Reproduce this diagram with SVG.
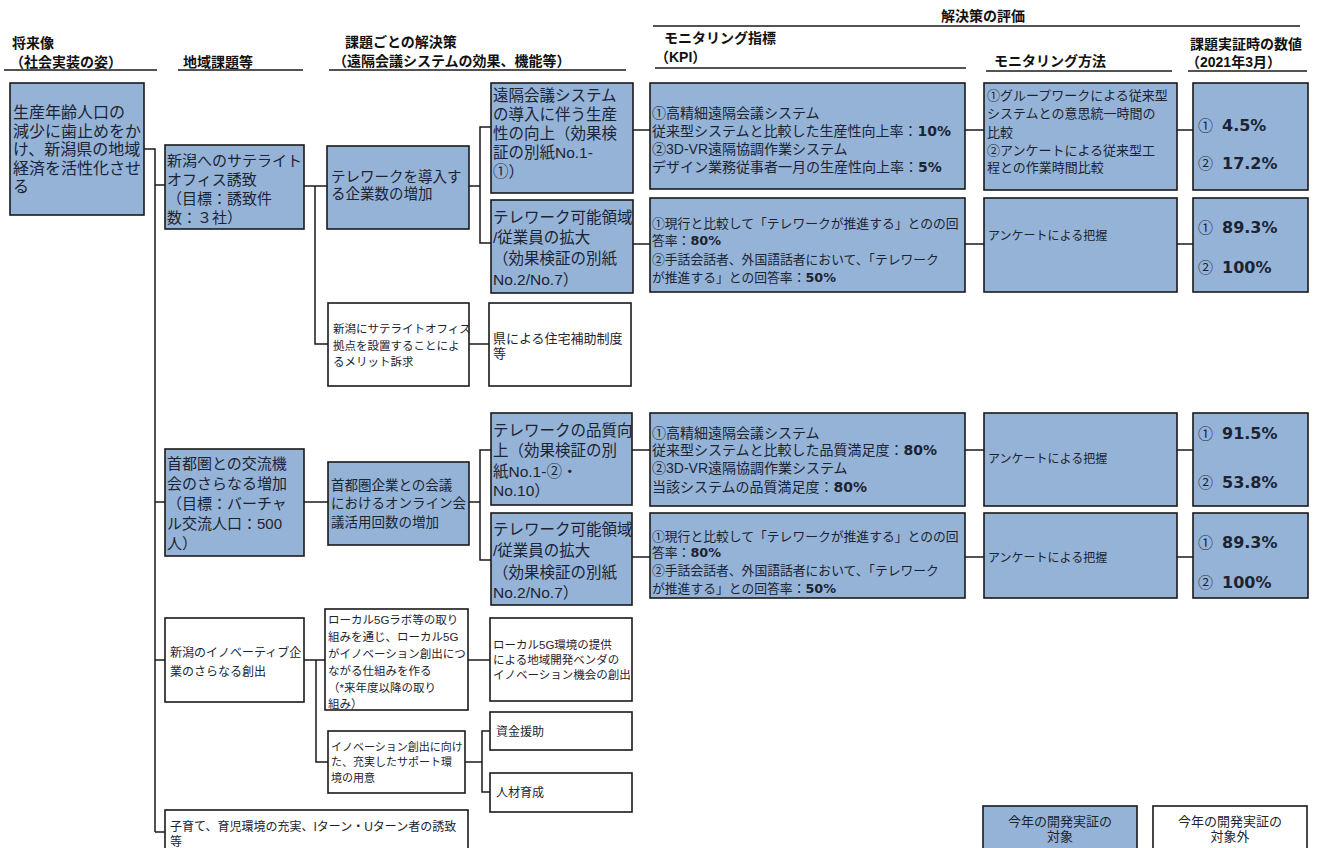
<svg xmlns="http://www.w3.org/2000/svg" width="1324" height="848" viewBox="0 0 1324 848">
<style>
.bg{fill:#ffffff}
.b{fill:#95B3D7;stroke:#1a1a1a;stroke-width:1.6}
.w{fill:#ffffff;stroke:#1a1a1a;stroke-width:1.6}
.c{fill:none;stroke:#1a1a1a;stroke-width:1.5}
.ul{stroke:#1a1a1a;stroke-width:1.6}
text{font-family:"Liberation Sans","Noto Sans CJK JP","Noto Sans CJK SC",sans-serif;fill:#1c2433}
.h{font-size:14px;font-weight:bold;fill:#111}
.pb{font-family:"DejaVu Sans",sans-serif;font-weight:bold}
.v{font-size:15px}
.vn{font-family:"DejaVu Sans",sans-serif;font-weight:bold;font-size:16px}
</style>
<rect class="bg" x="0" y="0" width="1324" height="848"/>

<g id="headers">
<text class="h" x="12" y="48">将来像</text>
<text class="h" x="10" y="67">（社会実装の姿）</text>
<line class="ul" x1="4" y1="70" x2="157" y2="70"/>
<text class="h" x="183" y="67">地域課題等</text>
<line class="ul" x1="178" y1="70" x2="303" y2="70"/>
<text class="h" x="345" y="47">課題ごとの解決策</text>
<text class="h" x="333" y="66">（遠隔会議システムの効果、機能等）</text>
<line class="ul" x1="329" y1="70" x2="626" y2="70"/>
<text class="h" x="983" y="21" text-anchor="middle">解決策の評価</text>
<line class="ul" x1="653" y1="26" x2="1300" y2="26"/>
<text class="h" x="664" y="43">モニタリング指標</text>
<text class="h" x="655" y="62">（KPI）</text>
<line class="ul" x1="655" y1="68" x2="966" y2="68"/>
<text class="h" x="994" y="66">モニタリング方法</text>
<line class="ul" x1="986" y1="71" x2="1172" y2="71"/>
<text class="h" x="1190" y="49">課題実証時の数値</text>
<text class="h" x="1186" y="67">（2021年3月）</text>
<line class="ul" x1="1188" y1="71" x2="1307" y2="71"/>
</g>

<g id="connectors">
<path class="c" d="M144 149H155V832"/>
<path class="c" d="M155 185H165"/>
<path class="c" d="M155 502H165"/>
<path class="c" d="M155 660H165"/>
<path class="c" d="M155 832H165"/>
<path class="c" d="M304 186H327"/>
<path class="c" d="M315 186V344H328"/>
<path class="c" d="M469 186H480"/>
<path class="c" d="M491 127H480V243H491"/>
<path class="c" d="M633 130H650"/>
<path class="c" d="M633 244H650"/>
<path class="c" d="M965 130H984"/>
<path class="c" d="M1177 130H1193"/>
<path class="c" d="M965 244H984"/>
<path class="c" d="M1177 244H1193"/>
<path class="c" d="M469 344H489"/>
<path class="c" d="M304 502H328"/>
<path class="c" d="M469 502H480"/>
<path class="c" d="M491 450H480V560H491"/>
<path class="c" d="M632 450H650"/>
<path class="c" d="M632 557H650"/>
<path class="c" d="M965 450H984"/>
<path class="c" d="M1177 450H1193"/>
<path class="c" d="M965 557H984"/>
<path class="c" d="M1177 557H1193"/>
<path class="c" d="M304 660H325"/>
<path class="c" d="M316 660V762H328"/>
<path class="c" d="M468 660H490"/>
<path class="c" d="M465 762H482"/>
<path class="c" d="M490 731H482V792H490"/>
</g>

<g id="vision">
<rect class="b" x="10" y="83" width="134" height="132"/>
<g font-size="16">
<text x="13" y="118">生産年齢人口の</text>
<text x="13" y="136.5">減少に歯止めをか</text>
<text x="13" y="155">け、新潟県の地域</text>
<text x="13" y="173.5">経済を活性化させ</text>
<text x="13" y="192">る</text>
</g>
</g>

<g id="issue-satellite">
<rect class="b" x="165" y="145" width="139" height="84"/>
<g font-size="15">
<text x="167" y="166">新潟へのサテライト</text>
<text x="167" y="185">オフィス誘致</text>
<text x="167" y="204">（目標：誘致件</text>
<text x="167" y="223">数：３社）</text>
</g>
</g>

<g id="sol-telework-companies">
<rect class="b" x="327" y="146" width="142" height="83"/>
<g font-size="14.5">
<text x="331" y="182">テレワークを導入す</text>
<text x="331" y="198.5">る企業数の増加</text>
</g>
</g>

<g id="eff-productivity">
<rect class="b" x="491" y="83" width="142" height="110"/>
<g font-size="15.5">
<text x="493" y="101">遠隔会議システム</text>
<text x="493" y="120">の導入に伴う生産</text>
<text x="493" y="139">性の向上（効果検</text>
<text x="493" y="158">証の別紙No.1-</text>
<text x="493" y="177">①）</text>
</g>
</g>

<g id="eff-area-1">
<rect class="b" x="491" y="200" width="142" height="93"/>
<g font-size="15.5">
<text x="493" y="223">テレワーク可能領域</text>
<text x="493" y="243">/従業員の拡大</text>
<text x="493" y="264">（効果検証の別紙</text>
<text x="493" y="285">No.2/No.7）</text>
</g>
</g>

<g id="kpi-1">
<rect class="b" x="650" y="83" width="315" height="106"/>
<g font-size="14">
<text x="652" y="118">①高精細遠隔会議システム</text>
<text x="652" y="136">従来型システムと比較した生産性向上率：<tspan class="pb">10%</tspan></text>
<text x="652" y="154">②3D-VR遠隔協調作業システム</text>
<text x="652" y="172">デザイン業務従事者一月の生産性向上率：<tspan class="pb">5%</tspan></text>
</g>
</g>

<g id="kpi-2">
<rect class="b" x="650" y="198" width="315" height="94"/>
<g font-size="12.8">
<text x="652" y="228">①現行と比較して「テレワークが推進する」とのの回</text>
<text x="652" y="245">答率：<tspan class="pb">80%</tspan></text>
<text x="652" y="264">②手話会話者、外国語話者において、「テレワーク</text>
<text x="652" y="282">が推進する」との回答率：<tspan class="pb">50%</tspan></text>
</g>
</g>

<g id="method-1">
<rect class="b" x="984" y="83" width="193" height="107"/>
<g font-size="13">
<text x="987" y="100">①グループワークによる従来型</text>
<text x="987" y="118">システムとの意思統一時間の</text>
<text x="987" y="137">比較</text>
<text x="987" y="155">②アンケートによる従来型工</text>
<text x="987" y="172">程との作業時間比較</text>
</g>
</g>

<g id="method-2">
<rect class="b" x="984" y="198" width="193" height="94"/>
<text x="988" y="240" font-size="12">アンケートによる把握</text>
</g>

<g id="value-1">
<rect class="b" x="1193" y="83" width="115" height="107"/>
<text class="v" x="1198" y="131">①</text><text class="vn" x="1222" y="131">4.5%</text>
<text class="v" x="1198" y="169">②</text><text class="vn" x="1222" y="169">17.2%</text>
</g>

<g id="value-2">
<rect class="b" x="1193" y="198" width="115" height="94"/>
<text class="v" x="1198" y="233">①</text><text class="vn" x="1222" y="233">89.3%</text>
<text class="v" x="1198" y="273">②</text><text class="vn" x="1222" y="273">100%</text>
</g>

<g id="sol-merit">
<rect class="w" x="328" y="303" width="141" height="83"/>
<g font-size="11.5">
<text x="333" y="333">新潟にサテライトオフィス</text>
<text x="333" y="350">拠点を設置することによ</text>
<text x="333" y="366">るメリット訴求</text>
</g>
</g>

<g id="eff-housing">
<rect class="w" x="489" y="303" width="142" height="83"/>
<g font-size="13">
<text x="493" y="343">県による住宅補助制度</text>
<text x="493" y="358">等</text>
</g>
</g>

<g id="issue-tokyo">
<rect class="b" x="165" y="449" width="139" height="107"/>
<g font-size="15">
<text x="167" y="469">首都圏との交流機</text>
<text x="167" y="489">会のさらなる増加</text>
<text x="167" y="509">（目標：バーチャ</text>
<text x="167" y="529">ル交流人口：500</text>
<text x="167" y="549">人）</text>
</g>
</g>

<g id="sol-online-meetings">
<rect class="b" x="328" y="462" width="141" height="83"/>
<g font-size="13.5">
<text x="331" y="490">首都圏企業との会議</text>
<text x="331" y="508">におけるオンライン会</text>
<text x="331" y="527">議活用回数の増加</text>
</g>
</g>

<g id="eff-quality">
<rect class="b" x="491" y="413" width="141" height="92"/>
<g font-size="15.5">
<text x="493" y="436">テレワークの品質向</text>
<text x="493" y="456">上（効果検証の別</text>
<text x="493" y="477">紙No.1-②・</text>
<text x="493" y="496">No.10）</text>
</g>
</g>

<g id="eff-area-2">
<rect class="b" x="491" y="513" width="141" height="92"/>
<g font-size="15.5">
<text x="493" y="535">テレワーク可能領域</text>
<text x="493" y="556">/従業員の拡大</text>
<text x="493" y="578">（効果検証の別紙</text>
<text x="493" y="598">No.2/No.7）</text>
</g>
</g>

<g id="kpi-3">
<rect class="b" x="650" y="413" width="315" height="93"/>
<g font-size="14">
<text x="652" y="438">①高精細遠隔会議システム</text>
<text x="652" y="455">従来型システムと比較した品質満足度：<tspan class="pb">80%</tspan></text>
<text x="652" y="473">②3D-VR遠隔協調作業システム</text>
<text x="652" y="492">当該システムの品質満足度：<tspan class="pb">80%</tspan></text>
</g>
</g>

<g id="kpi-4">
<rect class="b" x="650" y="513" width="315" height="85"/>
<g font-size="12.8">
<text x="652" y="541">①現行と比較して「テレワークが推進する」とのの回</text>
<text x="652" y="557">答率：<tspan class="pb">80%</tspan></text>
<text x="652" y="575">②手話会話者、外国語話者において、「テレワーク</text>
<text x="652" y="593">が推進する」との回答率：<tspan class="pb">50%</tspan></text>
</g>
</g>

<g id="method-3">
<rect class="b" x="984" y="413" width="193" height="93"/>
<text x="988" y="463" font-size="12">アンケートによる把握</text>
</g>

<g id="method-4">
<rect class="b" x="984" y="513" width="193" height="85"/>
<text x="988" y="562" font-size="12">アンケートによる把握</text>
</g>

<g id="value-3">
<rect class="b" x="1193" y="413" width="115" height="93"/>
<text class="v" x="1198" y="439">①</text><text class="vn" x="1222" y="439">91.5%</text>
<text class="v" x="1198" y="488">②</text><text class="vn" x="1222" y="488">53.8%</text>
</g>

<g id="value-4">
<rect class="b" x="1193" y="513" width="115" height="85"/>
<text class="v" x="1198" y="548">①</text><text class="vn" x="1222" y="548">89.3%</text>
<text class="v" x="1198" y="588">②</text><text class="vn" x="1222" y="588">100%</text>
</g>

<g id="issue-innovation">
<rect class="w" x="165" y="618" width="139" height="84"/>
<g font-size="12">
<text x="170" y="657">新潟のイノベーティブ企</text>
<text x="170" y="676">業のさらなる創出</text>
</g>
</g>

<g id="sol-local5g">
<rect class="w" x="325" y="609" width="143" height="101"/>
<g font-size="11.5">
<text x="328" y="624">ローカル5Gラボ等の取り</text>
<text x="328" y="641">組みを通じ、ローカル5G</text>
<text x="328" y="658">がイノベーション創出につ</text>
<text x="328" y="675">ながる仕組みを作る</text>
<text x="328" y="692">（*来年度以降の取り</text>
<text x="328" y="708">組み）</text>
</g>
</g>

<g id="eff-local5g">
<rect class="w" x="490" y="618" width="142" height="83"/>
<g font-size="11.5">
<text x="493" y="649">ローカル5G環境の提供</text>
<text x="493" y="664">による地域開発ベンダの</text>
<text x="493" y="679">イノベーション機会の創出</text>
</g>
</g>

<g id="sol-support">
<rect class="w" x="328" y="731" width="137" height="62"/>
<g font-size="11">
<text x="331" y="751">イノベーション創出に向け</text>
<text x="331" y="766">た、充実したサポート環</text>
<text x="331" y="782">境の用意</text>
</g>
</g>

<g id="eff-funding">
<rect class="w" x="490" y="712" width="142" height="38"/>
<text x="496" y="736" font-size="12">資金援助</text>
</g>

<g id="eff-hr">
<rect class="w" x="490" y="773" width="142" height="39"/>
<text x="496" y="797" font-size="12">人材育成</text>
</g>

<g id="issue-childcare">
<rect class="w" x="165" y="810" width="303" height="45"/>
<g font-size="12">
<text x="170" y="831">子育て、育児環境の充実、Iターン・Uターン者の誘致</text>
<text x="170" y="846">等</text>
</g>
</g>

<g id="legend-target">
<rect class="b" x="983" y="806" width="154" height="50"/>
<g font-size="13" text-anchor="middle">
<text x="1060" y="826">今年の開発実証の</text>
<text x="1060" y="841">対象</text>
</g>
</g>

<g id="legend-nontarget">
<rect class="w" x="1153" y="806" width="154" height="50"/>
<g font-size="13" text-anchor="middle">
<text x="1230" y="826">今年の開発実証の</text>
<text x="1230" y="841">対象外</text>
</g>
</g>
</svg>
